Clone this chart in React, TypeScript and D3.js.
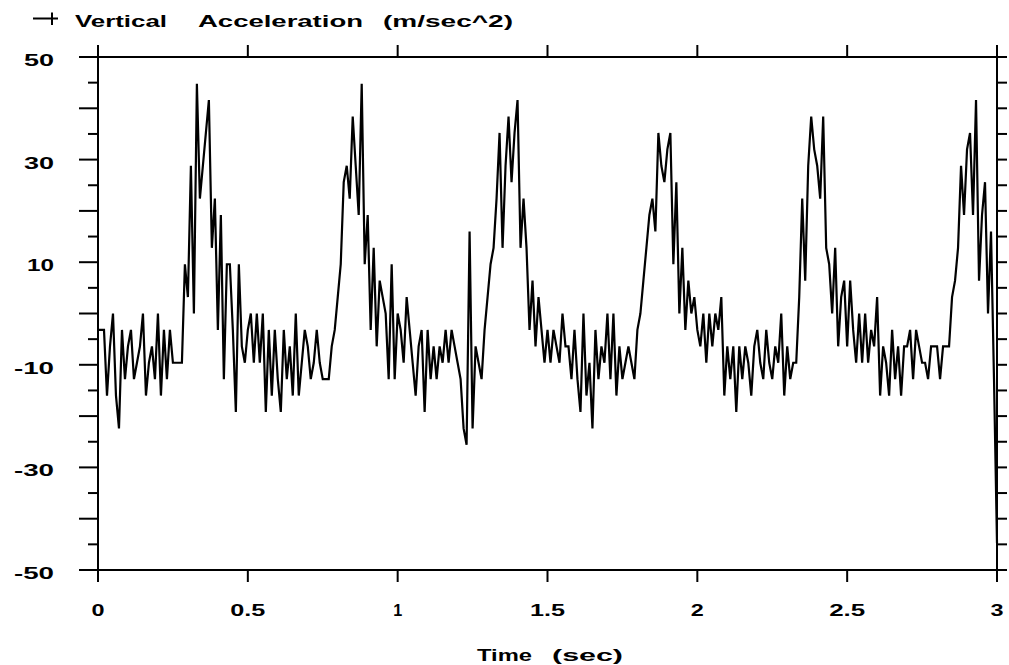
import React from 'react';
import * as d3 from 'd3';

// Sampling interval of the recorded signal (seconds)
const timeStep = 0.01;

// Vertical acceleration (m/sec^2), one value per 0.01 s
const acceleration: number[] = [
  -3.2, -3.2, -3.2, -16, -6.4, 0, -16, -22.4, -3.2, -12.8,
  -6.4, -3.2, -12.8, -9.6, -6.4, 0, -16, -9.6, -6.4, -12.8,
  0, -16, -3.2, -12.8, -3.2, -9.6, -9.6, -9.6, -9.6, 9.6,
  3.2, 28.8, 0, 44.8, 22.4, 28.8, 35.2, 41.6, 12.8, 22.4,
  -3.2, 19.2, -12.8, 9.6, 9.6, -3.2, -19.2, 9.6, -6.4, -9.6,
  -3.2, 0, -9.6, 0, -9.6, 0, -19.2, -3.2, -16, -3.2,
  -12.8, -19.2, -3.2, -12.8, -6.4, -16, 0, -16, -9.6, -3.2,
  -6.4, -12.8, -9.6, -3.2, -9.6, -12.8, -12.8, -12.8, -6.4, -3.2,
  3.2, 9.6, 25.6, 28.8, 22.4, 38.4, 28.8, 19.2, 44.8, 9.6,
  19.2, -3.2, 12.8, -6.4, 6.4, 3.2, 0, -12.8, 9.6, -12.8,
  0, -3.2, -9.6, 3.2, -3.2, -9.6, -16, -6.4, -3.2, -19.2,
  -3.2, -12.8, -6.4, -12.8, -6.4, -9.6, -3.2, -9.6, -3.2, -6.4,
  -9.6, -12.8, -22.4, -25.6, 16, -22.4, -6.4, -9.6, -12.8, -3.2,
  3.2, 9.6, 12.8, 22.4, 35.2, 12.8, 28.8, 38.4, 25.6, 35.2,
  41.6, 12.8, 22.4, 12.8, -3.2, 6.4, -6.4, 3.2, -3.2, -9.6,
  -3.2, -9.6, -3.2, -6.4, -9.6, 0, -6.4, -6.4, -12.8, -3.2,
  -12.8, -19.2, 0, -16, -9.6, -22.4, -3.2, -12.8, -6.4, -9.6,
  0, -12.8, 0, -16, -6.4, -12.8, -9.6, -6.4, -9.6, -12.8,
  -3.2, 0, 6.4, 12.8, 19.2, 22.4, 16, 35.2, 28.8, 25.6,
  32, 35.2, 9.6, 25.6, 0, 12.8, -3.2, 6.4, 0, 3.2,
  -3.2, -6.4, 0, -9.6, 0, -6.4, 0, -3.2, 3.2, -16,
  -6.4, -12.8, -6.4, -19.2, -6.4, -12.8, -6.4, -9.6, -16, -6.4,
  -3.2, -9.6, -12.8, -3.2, -9.6, -12.8, -6.4, -9.6, 0, -16,
  -6.4, -12.8, -9.6, -9.6, 3.2, 22.4, 6.4, 28.8, 38.4, 32,
  28.8, 22.4, 38.4, 12.8, 9.6, 0, 12.8, -6.4, 3.2, 6.4,
  -6.4, 6.4, -3.2, -9.6, 0, -9.6, 0, -9.6, -3.2, -6.4,
  3.2, -16, -6.4, -9.6, -16, -3.2, -12.8, -6.4, -16, -6.4,
  -6.4, -3.2, -12.8, -3.2, -6.4, -9.6, -9.6, -12.8, -6.4, -6.4,
  -6.4, -12.8, -6.4, -6.4, -6.4, 3.2, 6.4, 12.8, 28.8, 19.2,
  32, 35.2, 19.2, 41.6, 6.4, 19.2, 25.6, 0, 16, -12.8,
  -44.8,
];

const xDomain = [0, 3];
const yDomain = [-50, 50];
const xTickValues = [0, 0.5, 1, 1.5, 2, 2.5, 3];
const xTickLabels = ['0', '0.5', '1', '1.5', '2', '2.5', '3'];
const yLabelValues = [50, 30, 10, -10, -30, -50];
const yLabelTexts = ['50', '30', '10', '-10', '-30', '-50'];
const titleWords = ['Vertical', 'Acceleration', '(m/sec^2)'];
const xAxisTitleWords = ['Time', '(sec)'];

// layout
const W = 1009;
const H = 665;
const left = 98;
const right = 997;
const top = 57;
const bottom = 570;
const FONT = "'Liberation Sans', Arial, Helvetica, sans-serif";

const labelWidth: Record<string, number> = {
  '0': 13, '0.5': 35, '1': 9, '1.5': 35, '2': 13, '2.5': 36, '3': 13,
  '50': 30, '30': 30, '10': 27, '-10': 40, '-30': 40, '-50': 40,
};
const titleLayout = [
  { x: 75, w: 92 },
  { x: 198, w: 165 },
  { x: 383, w: 130 },
];
const xTitleLayout = [
  { x: 477, w: 55 },
  { x: 552, w: 71 },
];

export default function App() {
  const x = d3.scaleLinear().domain(xDomain).range([left, right]);
  const y = d3.scaleLinear().domain(yDomain).range([bottom, top]);

  const line = d3
    .line<number>()
    .x((_, i) => x(i * timeStep))
    .y((d) => y(d));

  const yTicks = y.ticks(20);

  return (
    <svg
      width={W}
      height={H}
      viewBox={`0 0 ${W} ${H}`}
      style={{ position: 'absolute', left: 0, top: 0, background: '#fff' }}
    >
      <rect x={0} y={0} width={W} height={H} fill="#fff" />

      {/* legend symbol + title */}
      <g stroke="#000" strokeWidth={2}>
        <line x1={33} x2={58} y1={18.5} y2={18.5} />
        <line x1={52} x2={52} y1={12.5} y2={25} />
      </g>
      {titleWords.map((w, i) => (
        <text
          key={w}
          x={titleLayout[i].x}
          y={27}
          fontFamily={FONT}
          fontWeight="bold"
          fontSize={16}
          textLength={titleLayout[i].w}
          lengthAdjust="spacingAndGlyphs"
          fill="#000"
        >
          {w}
        </text>
      ))}

      {/* data trace */}
      <path
        d={line(acceleration) || ''}
        fill="none"
        stroke="#000"
        strokeWidth={2.2}
        strokeLinejoin="miter"
        strokeMiterlimit={2}
      />

      {/* frame */}
      <rect
        x={left}
        y={top}
        width={right - left}
        height={bottom - top}
        fill="none"
        stroke="#000"
        strokeWidth={2}
      />

      {/* ticks (outward) */}
      <g stroke="#000" strokeWidth={2}>
        {yTicks.map((v) => (
          <line
            key={'l' + v}
            x1={left}
            x2={left - (v % 10 === 0 ? 19 : 10)}
            y1={y(v)}
            y2={y(v)}
          />
        ))}
        {yTicks.map((v) => (
          <line key={'r' + v} x1={right} x2={right + 10} y1={y(v)} y2={y(v)} />
        ))}
        {xTickValues.map((v) => (
          <line key={'b' + v} x1={x(v)} x2={x(v)} y1={bottom} y2={bottom + 12} />
        ))}
        {xTickValues.map((v) => (
          <line key={'t' + v} x1={x(v)} x2={x(v)} y1={top} y2={top - 12} />
        ))}
      </g>

      {/* y labels */}
      {yLabelValues.map((v, i) => {
        const t = yLabelTexts[i];
        const w = labelWidth[t];
        return (
          <text
            key={'yl' + v}
            x={54 - w}
            y={y(v) + 9}
            fontFamily={FONT}
            fontWeight="bold"
            fontSize={16}
            textLength={w}
            lengthAdjust="spacingAndGlyphs"
            fill="#000"
          >
            {t}
          </text>
        );
      })}

      {/* x labels */}
      {xTickValues.map((v, i) => {
        const t = xTickLabels[i];
        const w = labelWidth[t];
        return (
          <text
            key={'xl' + v}
            x={x(v) - w / 2}
            y={616}
            fontFamily={FONT}
            fontWeight="bold"
            fontSize={16}
            textLength={w}
            lengthAdjust="spacingAndGlyphs"
            fill="#000"
          >
            {t}
          </text>
        );
      })}

      {/* x axis title */}
      {xAxisTitleWords.map((w, i) => (
        <text
          key={w}
          x={xTitleLayout[i].x}
          y={661}
          fontFamily={FONT}
          fontWeight="bold"
          fontSize={17}
          textLength={xTitleLayout[i].w}
          lengthAdjust="spacingAndGlyphs"
          fill="#000"
        >
          {w}
        </text>
      ))}
    </svg>
  );
}
